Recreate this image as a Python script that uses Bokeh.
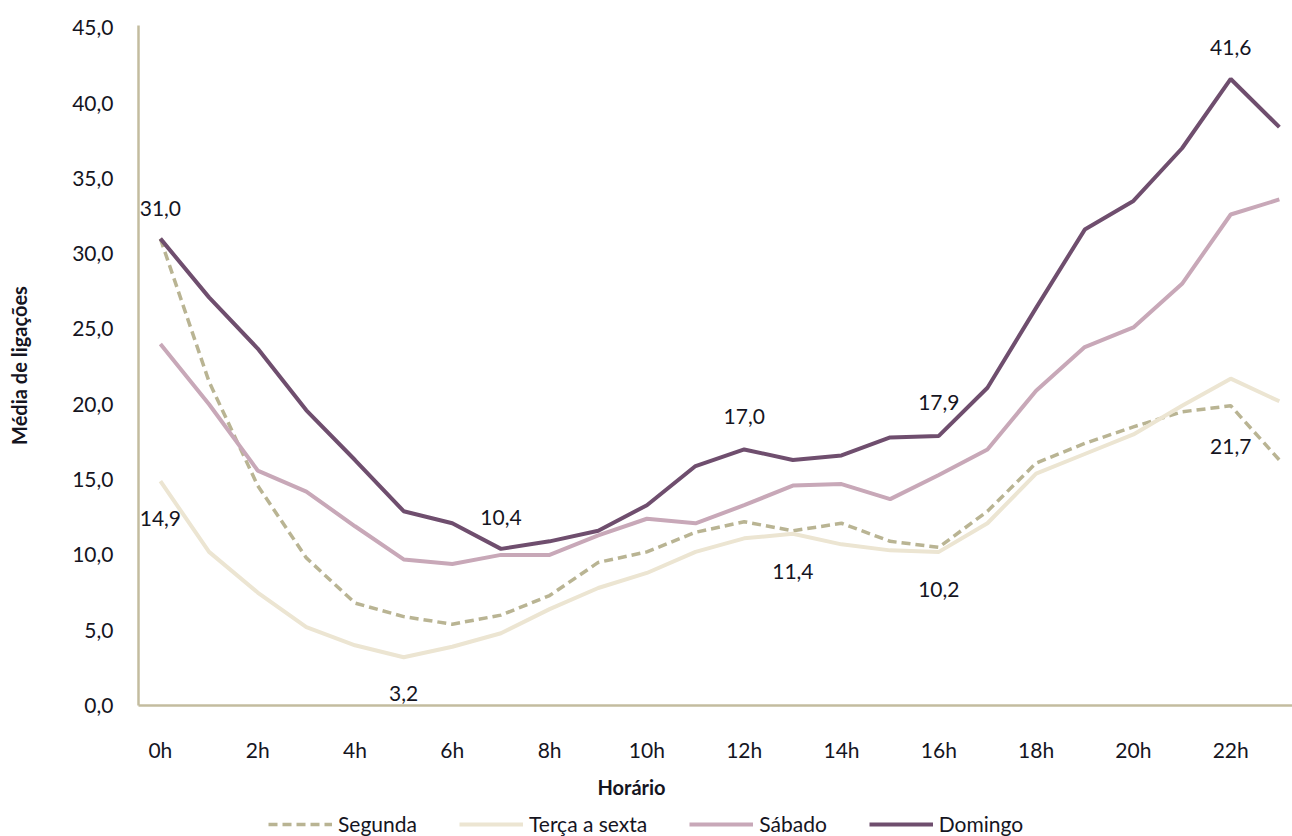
from bokeh.plotting import figure
from bokeh.layouts import column
from bokeh.models import (ColumnDataSource, Range1d, Legend, LegendItem, Title,
                          FixedTicker)
from bokeh.core.properties import value
from bokeh.embed import file_html
from bokeh.resources import INLINE

# ---------------- data ----------------
hours = list(range(24))
x_tick_values = [0, 2, 4, 6, 8, 10, 12, 14, 16, 18, 20, 22]
x_tick_labels = ["0h", "2h", "4h", "6h", "8h", "10h", "12h", "14h", "16h", "18h", "20h", "22h"]
y_tick_values = [0, 5, 10, 15, 20, 25, 30, 35, 40, 45]
y_tick_labels = ["0,0", "5,0", "10,0", "15,0", "20,0", "25,0", "30,0", "35,0", "40,0", "45,0"]

segunda = [31.0, 21.5, 14.6, 9.8, 6.8, 5.9, 5.4, 6.0, 7.3, 9.5, 10.2, 11.5,
           12.2, 11.6, 12.1, 10.9, 10.5, 12.9, 16.1, 17.4, 18.5, 19.5, 19.9, 16.3]
terca = [14.9, 10.2, 7.5, 5.2, 4.0, 3.2, 3.9, 4.8, 6.4, 7.8, 8.8, 10.2,
         11.1, 11.4, 10.7, 10.3, 10.2, 12.1, 15.4, 16.7, 18.0, 19.9, 21.7, 20.2]
sabado = [24.0, 20.0, 15.6, 14.2, 11.9, 9.7, 9.4, 10.0, 10.0, 11.3, 12.4, 12.1,
          13.3, 14.6, 14.7, 13.7, 15.3, 17.0, 20.9, 23.8, 25.1, 28.0, 32.6, 33.6]
domingo = [31.0, 27.1, 23.7, 19.6, 16.3, 12.9, 12.1, 10.4, 10.9, 11.6, 13.3, 15.9,
           17.0, 16.3, 16.6, 17.8, 17.9, 21.1, 26.4, 31.6, 33.5, 37.0, 41.6, 38.4]

series_names = ["Segunda", "Terça a sexta", "Sábado", "Domingo"]

# which points carry a data label
domingo_label_idx = [0, 7, 12, 16, 22]
terca_label_idx = [0, 5, 13, 16, 22]

# ---------------- styles ----------------
FONT = "Lato"
TXT = "#15151f"
AXIS_COL = "#c3bc9f"
colors = {"Segunda": "#b9b493", "Terça a sexta": "#ece5d2",
          "Sábado": "#c8a8b8", "Domingo": "#6f4e6e"}
line_styles = {"Segunda": dict(line_width=3.5, line_dash="9 5"),
               "Terça a sexta": dict(line_width=4, line_dash="solid"),
               "Sábado": dict(line_width=4, line_dash="solid"),
               "Domingo": dict(line_width=4, line_dash="solid")}
domingo_label_dy = [-30, -31, -33, -33, -31]
terca_label_dy = [37, 36, 38, 38, 68]

W = 1292
H_MAIN, H_LEG = 806, 30

p = figure(width=W, height=H_MAIN, output_backend="svg", toolbar_location=None,
           x_range=Range1d(-0.45, 23.27), y_range=Range1d(0, 45.15),
           min_border_left=138, min_border_right=0, min_border_top=25,
           min_border_bottom=H_MAIN - 705, background_fill_color="white",
           border_fill_color="white")
p.outline_line_color = None
p.xgrid.visible = False
p.ygrid.visible = False

# axes
p.xaxis.ticker = FixedTicker(ticks=x_tick_values)
p.xaxis.major_label_overrides = dict(zip(x_tick_values, x_tick_labels))
p.yaxis.ticker = FixedTicker(ticks=y_tick_values)
p.yaxis.major_label_overrides = dict(zip(y_tick_values, y_tick_labels))
for ax in (p.xaxis, p.yaxis):
    ax.axis_line_color = AXIS_COL
    ax.axis_line_width = 2.5
    ax.major_tick_line_color = None
    ax.minor_tick_line_color = None
    ax.major_tick_out = 0
    ax.major_tick_in = 0
    ax.major_label_text_font = FONT
    ax.major_label_text_font_size = "21px"
    ax.major_label_text_color = TXT
p.xaxis.major_label_standoff = 31
p.yaxis.major_label_standoff = 25
p.yaxis.axis_label = "Média de ligações"
p.yaxis.axis_label_text_font = FONT
p.yaxis.axis_label_text_font_style = "bold"
p.yaxis.axis_label_text_font_size = "20px"
p.yaxis.axis_label_text_color = TXT
p.yaxis.axis_label_standoff = 38

# lines
src = ColumnDataSource(dict(h=hours, Segunda=segunda, Terca=terca,
                            Sabado=sabado, Domingo=domingo))
cols = ["Segunda", "Terca", "Sabado", "Domingo"]
for name, col in zip(series_names, cols):
    p.line("h", col, source=src, line_color=colors[name], **line_styles[name])

# data labels
def fmt(v):
    return f"{v:.1f}".replace(".", ",")

lab_x = [hours[i] for i in domingo_label_idx] + [hours[i] for i in terca_label_idx]
lab_y = [domingo[i] for i in domingo_label_idx] + [terca[i] for i in terca_label_idx]
lab_t = [fmt(v) for v in lab_y]
lab_dy = domingo_label_dy + terca_label_dy
lsrc = ColumnDataSource(dict(x=lab_x, y=lab_y, t=lab_t, dy=lab_dy))
p.text("x", "y", text="t", source=lsrc, y_offset="dy", text_align="center",
       text_baseline="middle", text_font=value(FONT), text_font_size="21px",
       text_color=TXT)

# x axis title (below-panel title, shifted left like the reference)
xt = Title(text="Horário", align="left", offset=459, standoff=16,
           text_font=FONT, text_font_style="bold", text_font_size="20px",
           text_color=TXT)
p.add_layout(xt, "below")

# legend strip (separate figure; entries reuse the series styles, no data drawn)
lg = figure(width=W, height=H_LEG, output_backend="svg", toolbar_location=None,
            x_range=Range1d(0, 1), y_range=Range1d(0, 1),
            x_axis_type=None, y_axis_type=None,
            min_border_left=0, min_border_right=0, min_border_top=0,
            min_border_bottom=0, background_fill_color="white",
            border_fill_color="white")
lg.grid.visible = False
lg.outline_line_color = None
nan = float("nan")
items = []
for name in series_names:
    r = lg.line(x=[nan], y=[nan], line_color=colors[name], **line_styles[name])
    items.append(LegendItem(label=name, renderers=[r]))
legend = Legend(items=items, orientation="horizontal", location=(130, 0),
                glyph_width=64, glyph_height=20, label_height=22,
                label_standoff=6, spacing=42, padding=0, margin=0,
                label_text_font=FONT, label_text_font_size="21px",
                label_text_color=TXT, border_line_color=None,
                background_fill_alpha=0)
lg.add_layout(legend, "center")

layout = column(p, lg, spacing=0)
open("out.html", "w").write(file_html(layout, INLINE))
